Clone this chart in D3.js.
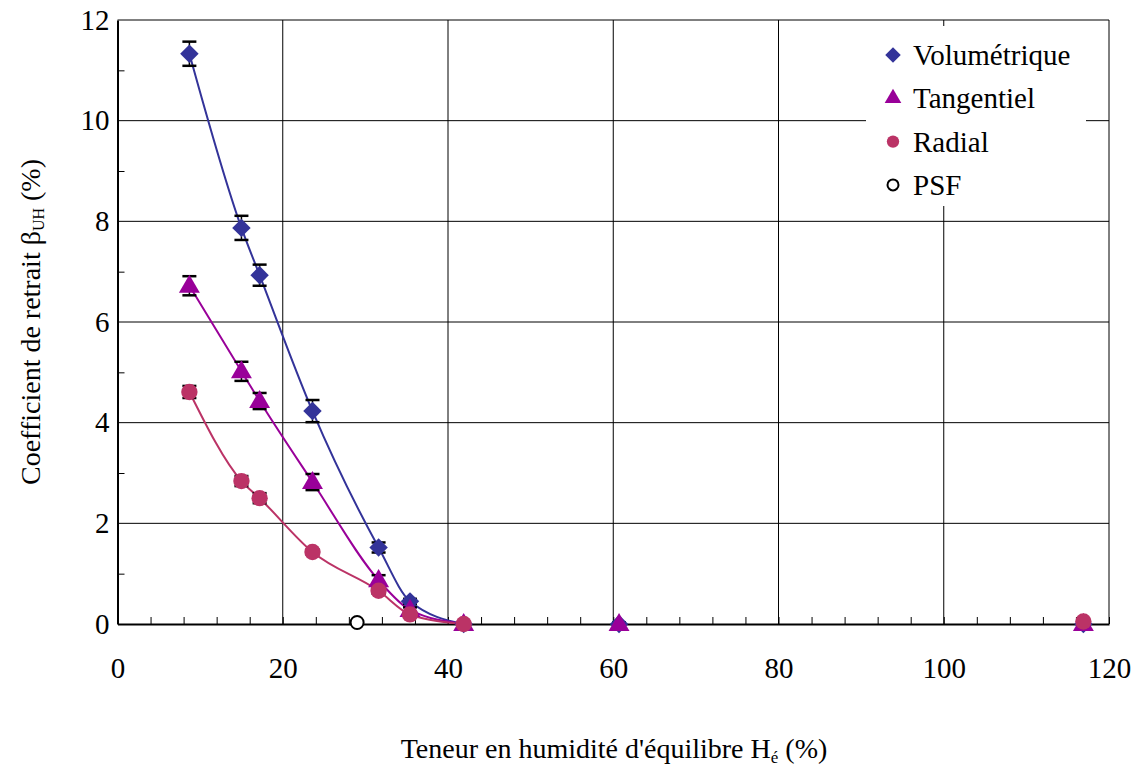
<!DOCTYPE html>
<html>
<head>
<meta charset="utf-8">
<script src="https://cdn.jsdelivr.net/npm/d3@7"></script>
</head>
<body style="margin:0">
<svg id="chart" width="1144" height="772" font-family="Liberation Serif"></svg>
<script>
// values
var volX = [8.7, 15.0, 17.2, 23.6, 31.6, 35.4, 41.9, 60.7, 116.9];
var volY = [11.33, 7.87, 6.93, 4.23, 1.52, 0.45, 0.0, 0.0, 0.0];
var volErr = [0.24, 0.24, 0.21, 0.22, 0.10, 0.05, 0.03, 0.03, 0.03];

var tanX = [8.7, 15.0, 17.2, 23.6, 31.6, 35.4, 41.9, 60.7, 116.9];
var tanY = [6.72, 5.02, 4.43, 2.82, 0.87, 0.28, 0.0, 0.0, 0.0];
var tanErr = [0.19, 0.19, 0.16, 0.16, 0.10, 0.05, 0.03, 0.03, 0.03];

var radX = [8.7, 15.0, 17.2, 23.6, 31.6, 35.4, 41.9, 116.9];
var radY = [4.61, 2.84, 2.50, 1.43, 0.66, 0.19, 0.0, 0.05];
var radErr = [0.12, 0.10, 0.10, 0.05, 0.06, 0.04, 0.02, 0.02];

var psfX = [29.0];
var psfY = [0.03];

var xTicks = [0, 20, 40, 60, 80, 100, 120];
var yTicks = [0, 2, 4, 6, 8, 10, 12];
var legendNames = ["Volumétrique", "Tangentiel", "Radial", "PSF"];

var svg = d3.select("#chart");

var x = d3.scaleLinear().domain([0, 120]).range([117.5, 1109]);
var y = d3.scaleLinear().domain([0, 12]).range([624, 20]);

function zip(xs, ys, es) {
  return xs.map(function(v, i) { return {x: v, y: ys[i], e: es ? es[i] : 0}; });
}

// diamond = square turned 45 degrees
var diamond = {
  draw: function(ctx, size) {
    var r = Math.sqrt(size / 2);
    ctx.moveTo(0, -r); ctx.lineTo(r, 0); ctx.lineTo(0, r); ctx.lineTo(-r, 0); ctx.closePath();
  }
};

var series = [
  {name: legendNames[0], data: zip(volX, volY, volErr), color: "#333399", shape: diamond, size: 170},
  {name: legendNames[1], data: zip(tanX, tanY, tanErr), color: "#990099", shape: d3.symbolTriangle, size: 190},
  {name: legendNames[2], data: zip(radX, radY, radErr), color: "#bb3366", shape: d3.symbolCircle, size: 210}
];

// grid
var grid = svg.append("g").attr("class", "grid");
grid.selectAll("line.v")
  .data(xTicks.slice(1))
  .enter().append("line")
  .attr("x1", function(d) { return x(d); })
  .attr("x2", function(d) { return x(d); })
  .attr("y1", y(0)).attr("y2", y(12))
  .attr("stroke", "#000").attr("stroke-width", 1);
grid.selectAll("line.h")
  .data(yTicks.slice(1))
  .enter().append("line")
  .attr("x1", x(0)).attr("x2", x(120))
  .attr("y1", function(d) { return y(d); })
  .attr("y2", function(d) { return y(d); })
  .attr("stroke", "#000").attr("stroke-width", 1);

// minor ticks (inside)
svg.append("g")
  .attr("transform", "translate(0," + y(0) + ")")
  .call(d3.axisBottom(x).tickValues(d3.range(0, 121, 4)).tickSize(-7).tickFormat(""))
  .call(function(g) { g.select(".domain").remove(); g.selectAll("line").attr("stroke", "#000"); });
svg.append("g")
  .attr("transform", "translate(" + x(0) + ",0)")
  .call(d3.axisLeft(y).tickValues(d3.range(1, 12, 2)).tickSize(-7).tickFormat(""))
  .call(function(g) { g.select(".domain").remove(); g.selectAll("line").attr("stroke", "#000"); });

// main axes with labels (drop d3's sans-serif default so the svg font is inherited)
var xAxis = svg.append("g")
  .attr("transform", "translate(0," + y(0) + ")")
  .call(d3.axisBottom(x).tickValues(xTicks).tickSize(0).tickPadding(33));
xAxis.attr("font-family", null).attr("font-size", 29);
xAxis.select(".domain").attr("stroke", "#000").attr("stroke-width", 2);
xAxis.selectAll("text").attr("font-family", "Liberation Serif").attr("fill", "#000");

var yAxis = svg.append("g")
  .attr("transform", "translate(" + x(0) + ",0)")
  .call(d3.axisLeft(y).tickValues(yTicks).tickSize(0).tickPadding(8));
yAxis.attr("font-family", null).attr("font-size", 29);
yAxis.select(".domain").attr("stroke", "#000").attr("stroke-width", 2);
yAxis.selectAll("text").attr("fill", "#000");

// legend box (white, covers grid)
var lg = svg.append("g").attr("transform", "translate(866,26)");
lg.append("rect").attr("width", 220).attr("height", 180).attr("fill", "#fff");

// fitted curves
var line = d3.line()
  .x(function(d) { return x(d.x); })
  .y(function(d) { return y(d.y); })
  .curve(d3.curveMonotoneX);

series.forEach(function(s) {
  svg.append("path")
    .datum(s.data.filter(function(d) { return d.x < 45; }))
    .attr("d", line)
    .attr("fill", "none")
    .attr("stroke", s.color)
    .attr("stroke-width", 2);
});

// error bars
series.forEach(function(s) {
  var eb = svg.append("g").selectAll("g").data(s.data).enter().append("g");
  eb.append("line")
    .attr("x1", function(d) { return x(d.x); }).attr("x2", function(d) { return x(d.x); })
    .attr("y1", function(d) { return y(d.y + d.e); }).attr("y2", function(d) { return y(d.y - d.e); })
    .attr("stroke", "#000").attr("stroke-width", 1.5);
  [1, -1].forEach(function(sg) {
    eb.append("line")
      .attr("x1", function(d) { return x(d.x) - 7; }).attr("x2", function(d) { return x(d.x) + 7; })
      .attr("y1", function(d) { return y(d.y + sg * d.e); }).attr("y2", function(d) { return y(d.y + sg * d.e); })
      .attr("stroke", "#000").attr("stroke-width", 2.5);
  });
});

// markers
series.forEach(function(s) {
  svg.append("g").selectAll("path")
    .data(s.data).enter().append("path")
    .attr("d", d3.symbol().type(s.shape).size(s.size))
    .attr("transform", function(d) {
      var dy = s.shape === d3.symbolTriangle ? 1 : 0;
      return "translate(" + x(d.x) + "," + (y(d.y) + dy) + ")";
    })
    .attr("fill", s.color);
});

svg.append("g").selectAll("circle")
  .data(zip(psfX, psfY)).enter().append("circle")
  .attr("cx", function(d) { return x(d.x); })
  .attr("cy", function(d) { return y(d.y); })
  .attr("r", 6.5)
  .attr("fill", "#fff")
  .attr("stroke", "#000")
  .attr("stroke-width", 2);

// legend entries
var legendShapes = [diamond, d3.symbolTriangle, d3.symbolCircle];
var legendColors = ["#333399", "#990099", "#bb3366"];
legendNames.forEach(function(name, i) {
  var ly = 29 + i * 43.3;
  if (i < 3) {
    lg.append("path")
      .attr("d", d3.symbol().type(legendShapes[i]).size(120))
      .attr("transform", "translate(27," + ly + ")")
      .attr("fill", legendColors[i]);
  } else {
    lg.append("circle").attr("cx", 27).attr("cy", ly).attr("r", 5.5)
      .attr("fill", "#fff").attr("stroke", "#000").attr("stroke-width", 2);
  }
  lg.append("text")
    .attr("x", 47).attr("y", ly)
    .attr("dy", "0.35em")
    .attr("font-size", 29)
    .style("font-family", "'Liberation Serif'")
    .text(name);
});

// axis titles
var xt = svg.append("text")
  .attr("x", 614).attr("y", 758)
  .attr("text-anchor", "middle")
  .attr("font-family", "Times New Roman")
  .attr("font-size", 28);
xt.append("tspan").text("Teneur en humidité d'équilibre H");
xt.append("tspan").attr("dy", 5).attr("font-size", 17).text("é");
xt.append("tspan").attr("dy", -5).text(" (%)");

var yt = svg.append("text")
  .attr("transform", "translate(40,322) rotate(-90)")
  .attr("text-anchor", "middle")
  .attr("font-size", 28);
yt.append("tspan").text("Coefficient de retrait β");
yt.append("tspan").attr("dy", 4).attr("font-size", 16).text("UH");
yt.append("tspan").attr("dy", -4).text(" (%)");
</script>
</body>
</html>
